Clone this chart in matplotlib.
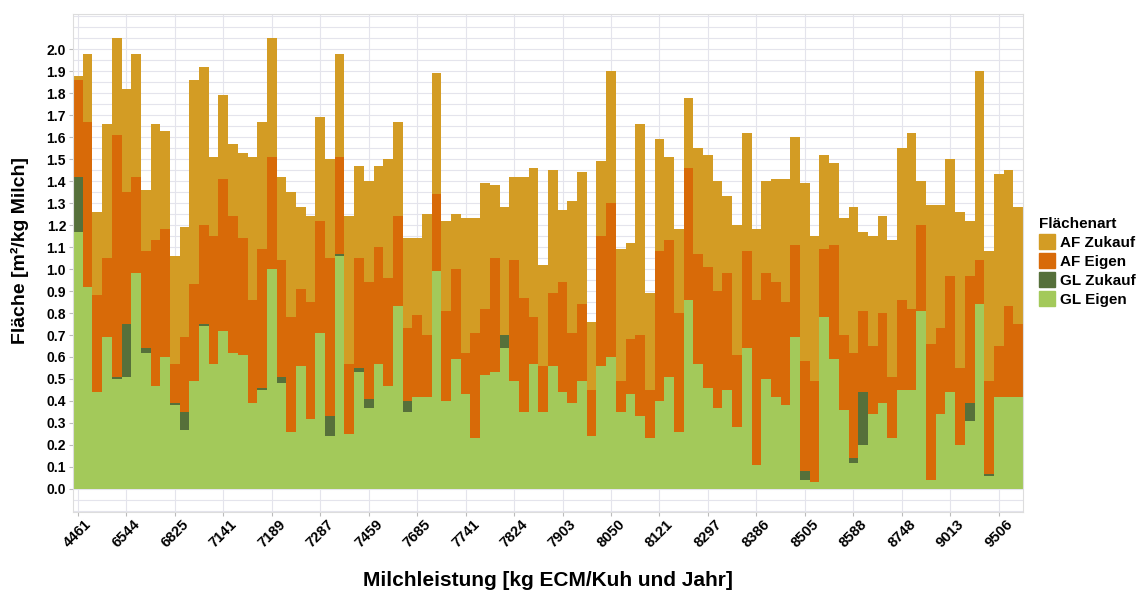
import numpy as np
import matplotlib
matplotlib.use('Agg')
import matplotlib.pyplot as plt
from matplotlib.patches import Patch
from matplotlib.ticker import MultipleLocator

plt.rcParams['font.family'] = ['Liberation Sans', 'DejaVu Sans']
plt.rcParams['font.weight'] = 'bold'
plt.rcParams['axes.labelweight'] = 'bold'

# Flaechenbedarf je Betrieb, sortiert nach Milchleistung
gl_eigen = [1.17, 0.92, 0.44, 0.69, 0.50, 0.51, 0.98, 0.62, 0.47, 0.60,
            0.38, 0.27, 0.49, 0.74, 0.57, 0.72, 0.62, 0.61, 0.39, 0.45,
            1.00, 0.48, 0.26, 0.56, 0.32, 0.71, 0.24, 1.06, 0.25, 0.53,
            0.37, 0.57, 0.47, 0.83, 0.35, 0.42, 0.42, 0.99, 0.40, 0.59,
            0.43, 0.23, 0.52, 0.53, 0.64, 0.49, 0.35, 0.57, 0.35, 0.56,
            0.44, 0.39, 0.49, 0.24, 0.56, 0.60, 0.35, 0.43, 0.33, 0.23,
            0.40, 0.51, 0.26, 0.86, 0.57, 0.46, 0.37, 0.45, 0.28, 0.64,
            0.11, 0.50, 0.42, 0.38, 0.69, 0.04, 0.03, 0.78, 0.59, 0.36,
            0.12, 0.20, 0.34, 0.39, 0.23, 0.45, 0.45, 0.81, 0.04, 0.34,
            0.44, 0.20, 0.31, 0.84, 0.06, 0.42, 0.42, 0.42]
gl_zukauf = [0.25, 0, 0, 0, 0.01, 0.24, 0, 0.02, 0, 0,
             0.01, 0.08, 0, 0.01, 0, 0, 0, 0, 0, 0.01,
             0, 0.03, 0, 0, 0, 0, 0.09, 0.01, 0, 0.02,
             0.04, 0, 0, 0, 0.05, 0, 0, 0, 0, 0,
             0, 0, 0, 0, 0.06, 0, 0, 0, 0, 0,
             0, 0, 0, 0, 0, 0, 0, 0, 0, 0,
             0, 0, 0, 0, 0, 0, 0, 0, 0, 0,
             0, 0, 0, 0, 0, 0.04, 0, 0, 0, 0,
             0.02, 0.24, 0, 0, 0, 0, 0, 0, 0, 0,
             0, 0, 0.08, 0, 0.01, 0, 0, 0]
af_eigen = [0.44, 0.75, 0.44, 0.36, 1.10, 0.60, 0.44, 0.44, 0.66, 0.58,
            0.18, 0.34, 0.44, 0.45, 0.58, 0.69, 0.62, 0.53, 0.47, 0.63,
            0.51, 0.53, 0.52, 0.35, 0.53, 0.51, 0.72, 0.44, 0.32, 0.50,
            0.53, 0.53, 0.49, 0.41, 0.33, 0.37, 0.28, 0.35, 0.41, 0.41,
            0.19, 0.48, 0.30, 0.52, 0.00, 0.55, 0.52, 0.21, 0.21, 0.33,
            0.50, 0.32, 0.35, 0.21, 0.59, 0.70, 0.14, 0.25, 0.37, 0.22,
            0.68, 0.62, 0.54, 0.60, 0.50, 0.55, 0.53, 0.53, 0.33, 0.44,
            0.75, 0.48, 0.52, 0.47, 0.42, 0.50, 0.46, 0.31, 0.52, 0.34,
            0.48, 0.37, 0.31, 0.41, 0.28, 0.41, 0.37, 0.39, 0.62, 0.39,
            0.53, 0.35, 0.58, 0.20, 0.42, 0.23, 0.41, 0.33]
af_zukauf = [0.02, 0.31, 0.38, 0.61, 0.44, 0.47, 0.56, 0.28, 0.53, 0.45,
             0.49, 0.50, 0.93, 0.72, 0.36, 0.38, 0.33, 0.39, 0.65, 0.58,
             0.54, 0.38, 0.57, 0.37, 0.39, 0.47, 0.45, 0.47, 0.67, 0.42,
             0.46, 0.37, 0.54, 0.43, 0.41, 0.35, 0.55, 0.55, 0.41, 0.25,
             0.61, 0.52, 0.57, 0.33, 0.58, 0.38, 0.55, 0.68, 0.46, 0.56,
             0.33, 0.60, 0.60, 0.31, 0.34, 0.60, 0.60, 0.44, 0.96, 0.44,
             0.51, 0.38, 0.38, 0.32, 0.48, 0.51, 0.50, 0.35, 0.59, 0.54,
             0.32, 0.42, 0.47, 0.56, 0.49, 0.81, 0.66, 0.43, 0.37, 0.53,
             0.66, 0.36, 0.50, 0.44, 0.62, 0.69, 0.80, 0.20, 0.63, 0.56,
             0.53, 0.71, 0.25, 0.86, 0.59, 0.78, 0.62, 0.53]

# nur jede fuenfte Milchleistung wird beschriftet
tick_labels = ['4461', '6544', '6825', '7141', '7189', '7287', '7459', '7685',
               '7741', '7824', '7903', '8050', '8121', '8297', '8386', '8505',
               '8588', '8748', '9013', '9506']

farben = {'GL Eigen': '#A3C95A', 'GL Zukauf': '#56703A',
          'AF Eigen': '#D86A08', 'AF Zukauf': '#D39C24'}

fig = plt.figure(figsize=(11.43, 5.90), dpi=100)
ax = fig.add_axes([0.0639, 0.1322, 0.8311, 0.8441])

x = np.arange(len(gl_eigen))
unten = np.zeros(len(x))
for name, werte in [('GL Eigen', gl_eigen), ('GL Zukauf', gl_zukauf),
                    ('AF Eigen', af_eigen), ('AF Zukauf', af_zukauf)]:
    werte = np.array(werte)
    ax.bar(x, werte, width=1.0, bottom=unten, color=farben[name],
           linewidth=0, zorder=2)
    unten = unten + werte

ax.set_xlim(-0.5, len(x) - 0.5)
ax.set_ylim(-0.105, 2.16)

ax.yaxis.set_minor_locator(MultipleLocator(0.05))
ax.set_yticks(np.arange(0, 2.01, 0.1))
ax.set_yticklabels(['%.1f' % v for v in np.arange(0, 2.01, 0.1)], fontsize=10)
ax.set_xticks(x[::5])
ax.set_xticklabels(tick_labels, rotation=45, ha='center', va='top',
                   fontsize=10.5)

ax.grid(True, which='both', axis='y', color='#E4E4EC', linewidth=0.8, zorder=0)
ax.grid(True, which='major', axis='x', color='#E4E4EC', linewidth=0.8, zorder=0)
ax.tick_params(axis='both', which='major', length=3, color='#BBBBBB', pad=2)
ax.tick_params(axis='y', which='minor', length=0)
ax.tick_params(axis='x', pad=1)
for s in ax.spines.values():
    s.set_color('#DDDDDD')
    s.set_linewidth(0.8)

ax.set_ylabel('Fläche [m²/kg Milch]', fontsize=14)
ax.yaxis.set_label_coords(-0.046, 0.525)
ax.set_xlabel('Milchleistung [kg ECM/Kuh und Jahr]', fontsize=15, labelpad=15)

namen = ['AF Zukauf', 'AF Eigen', 'GL Zukauf', 'GL Eigen']
handles = [Patch(color=farben[n]) for n in namen]
leg = fig.legend(handles, namen, title='Flächenart', loc='upper left',
                 bbox_to_anchor=(1037 / 1143, 1 - 215 / 590), frameon=False,
                 fontsize=11, title_fontsize=11, handlelength=1.1,
                 handleheight=1.2, handletextpad=0.3, labelspacing=0.2,
                 borderpad=0.1, borderaxespad=0)
leg.get_title().set_fontweight('bold')
leg._legend_box.align = 'left'

fig.savefig('out.png', dpi=100)
